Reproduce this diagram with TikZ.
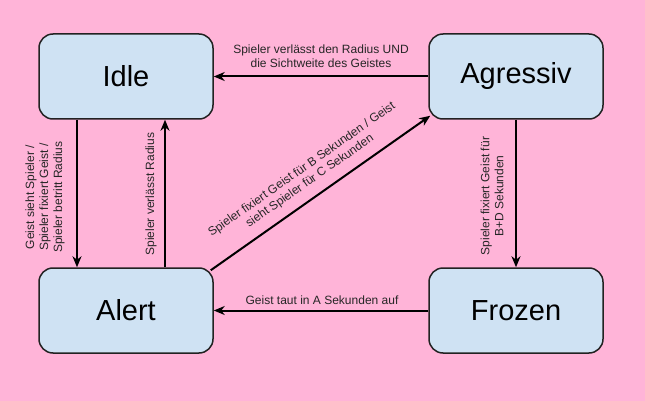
\documentclass[tikz,border=0pt]{standalone}
\usepackage{fontspec}
\setmainfont{Liberation Sans}
\usetikzlibrary{arrows.meta,calc}
\definecolor{bgpink}{RGB}{255,180,216}
\definecolor{boxblue}{RGB}{207,226,243}
\definecolor{boxline}{RGB}{34,34,34}
\tikzset{
  state/.style={rectangle, rounded corners=14pt, draw=boxline, line width=1.5pt,
    fill=boxblue, minimum width=174pt, minimum height=85pt, inner sep=0pt,
    font=\fontsize{29}{34}\selectfont},
  arr/.style={line width=2pt, -{Stealth[length=11pt,width=9pt,inset=3.5pt]}},
  lbl/.style={inner sep=0pt, align=center, font=\fontsize{12}{14}\selectfont, text=black!85}
}
\begin{document}
\begin{tikzpicture}[x=1pt,y=-1pt]
\fill[bgpink] (0,0) rectangle (645,401);
\useasboundingbox (0,0) rectangle (645,401);
\node[state] (idle) at (126,76.5) {Idle};
\node[state] (agr) at (516,76.5) {Agressiv};
\node[state] (alert) at (126,310.5) {Alert};
\node[state] (frozen) at (516,310.5) {Frozen};

\draw[arr] (agr.west) -- (idle.east);
\draw[arr] ([xshift=-49pt]idle.south) -- ([xshift=-49pt]alert.north);
\draw[arr] ([xshift=39pt]alert.north) -- ([xshift=39pt]idle.south);
\draw[arr] ([xshift=-3pt,yshift=-3pt]alert.north east) -- ([xshift=2pt,yshift=4pt]agr.south west);
\draw[arr] (agr.south) -- (frozen.north);
\draw[arr] (frozen.west) -- (alert.east);

\node[lbl] (l1) at (321,56) {Spieler verlässt den Radius UND\\die Sichtweite des Geistes};
\node[lbl, rotate=90] (l2) at (45,197) {Geist sieht Spieler /\\Spieler fixiert Geist /\\Spieler betritt Radius};
\node[lbl, rotate=90] (l3) at (151,194) {Spieler verlässt Radius};
\node[lbl, rotate=35] (l4) at (306,175.5) {Spieler fixiert Geist für B Sekunden / Geist\\sieht Spieler für C Sekunden};
\node[lbl, rotate=90] (l5) at (492,196) {Spieler fixiert Geist für\\B+D Sekunden};
\node[lbl, anchor=base] (l6) at (322,304) {Geist taut in A Sekunden auf};
\end{tikzpicture}
\end{document}
